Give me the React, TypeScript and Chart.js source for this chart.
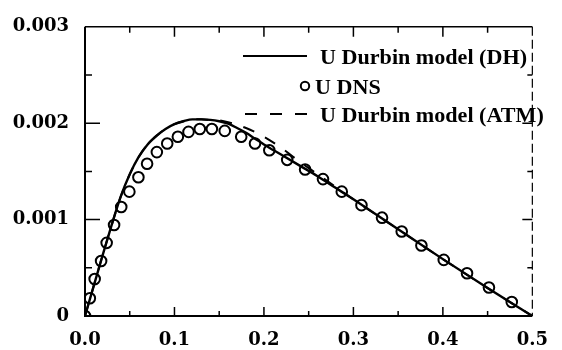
import React, { useEffect, useRef } from "react";
import { Chart, registerables } from "chart.js";

Chart.register(...registerables);

// ---- Data ----
const dnsX = [0, 0.0054, 0.0108, 0.018, 0.0242, 0.0325, 0.0405, 0.0496, 0.0597, 0.0694, 0.0803, 0.0919, 0.1038, 0.1157, 0.1283, 0.1418, 0.1562, 0.1746, 0.19, 0.206, 0.226, 0.246, 0.266, 0.287, 0.309, 0.332, 0.354, 0.376, 0.401, 0.427, 0.4515, 0.477];
const dnsY = [0, 0.000184, 0.000383, 0.000571, 0.000759, 0.000944, 0.00113, 0.00129, 0.00144, 0.00158, 0.0017, 0.00179, 0.00186, 0.00191, 0.00194, 0.00194, 0.00192, 0.00186, 0.00179, 0.00172, 0.00162, 0.00152, 0.00142, 0.00129, 0.00115, 0.00102, 0.000877, 0.000731, 0.000582, 0.000444, 0.000295, 0.000146];

const dhX = [0, 0.01, 0.02, 0.03, 0.04, 0.05, 0.06, 0.07, 0.08, 0.09, 0.1, 0.11, 0.12, 0.13, 0.14, 0.15, 0.16, 0.17, 0.18, 0.19, 0.2, 0.22, 0.24, 0.26, 0.28, 0.3, 0.35, 0.4, 0.45, 0.5];
const dhY = [0, 0.00032, 0.00064, 0.00095, 0.00124, 0.00147, 0.00165, 0.00178, 0.00187, 0.00194, 0.00199, 0.00202, 0.00204, 0.00204, 0.002035, 0.00202, 0.001995, 0.00195, 0.0019, 0.00184, 0.00178, 0.00167, 0.00156, 0.00145, 0.00133, 0.00121, 0.0009, 0.00059, 0.00029, 0];

const atmX = [0, 0.01, 0.02, 0.03, 0.04, 0.05, 0.06, 0.07, 0.08, 0.09, 0.1, 0.11, 0.12, 0.13, 0.14, 0.15, 0.16, 0.18, 0.2, 0.22, 0.24, 0.26, 0.28, 0.3, 0.35, 0.4, 0.45, 0.5];
const atmY = [0, 0.00032, 0.00064, 0.00095, 0.00124, 0.00147, 0.00165, 0.00178, 0.00187, 0.00194, 0.00199, 0.00202, 0.00204, 0.00204, 0.002035, 0.00203, 0.00201, 0.00195, 0.00186, 0.00174, 0.0016, 0.00147, 0.00134, 0.00121, 0.0009, 0.00059, 0.00029, 0];

const legendLabels = ["U Durbin model (DH)", "U DNS", "U Durbin model (ATM)"];

const xMin = 0, xMax = 0.5, xStep = 0.1, xMinorStep = 0.05;
const yMin = 0, yMax = 0.003, yStep = 0.001, yMinorStep = 0.0005;

const toPts = (xs: number[], ys: number[]) => xs.map((x, i) => ({ x, y: ys[i] }));

const framePlugin = {
  id: "frameAndLegend",
  afterDraw(chart: any) {
    const ctx = chart.ctx as CanvasRenderingContext2D;
    const { left, right, top, bottom } = chart.chartArea;
    const xs = chart.scales.x;
    const ys = chart.scales.y;
    ctx.save();
    ctx.strokeStyle = "#000";
    ctx.fillStyle = "#000";
    ctx.lineCap = "butt";

    // frame
    ctx.lineWidth = 2;
    ctx.beginPath();
    ctx.moveTo(left, top);
    ctx.lineTo(left, bottom);
    ctx.lineTo(right, bottom);
    ctx.stroke();
    ctx.lineWidth = 1.5;
    ctx.beginPath();
    ctx.moveTo(left, top);
    ctx.lineTo(right, top);
    ctx.stroke();
    ctx.lineWidth = 1.2;
    ctx.setLineDash([9, 4]);
    ctx.beginPath();
    ctx.moveTo(right, top);
    ctx.lineTo(right, bottom);
    ctx.stroke();
    ctx.setLineDash([]);

    // ticks
    ctx.lineWidth = 1.5;
    const nX = Math.round((xMax - xMin) / xMinorStep);
    for (let i = 1; i < nX; i++) {
      const v = xMin + i * xMinorStep;
      const major = Math.abs(v / xStep - Math.round(v / xStep)) < 1e-6;
      const px = xs.getPixelForValue(v);
      ctx.beginPath();
      ctx.moveTo(px, bottom);
      ctx.lineTo(px, bottom - (major ? 9 : 5));
      ctx.moveTo(px, top);
      ctx.lineTo(px, top + (major ? 10 : 6));
      ctx.stroke();
    }
    const nY = Math.round((yMax - yMin) / yMinorStep);
    for (let i = 1; i < nY; i++) {
      const v = yMin + i * yMinorStep;
      const major = Math.abs(v / yStep - Math.round(v / yStep)) < 1e-6;
      const py = ys.getPixelForValue(v);
      ctx.beginPath();
      ctx.moveTo(left, py);
      ctx.lineTo(left + (major ? 15 : 7), py);
      ctx.moveTo(right, py);
      ctx.lineTo(right - (major ? 10 : 5), py);
      ctx.stroke();
    }

    // legend
    const rows = [56, 86, 114];
    const textX = 320;
    ctx.font = "bold 21px 'Liberation Serif'";
    const s = 207 / ctx.measureText(legendLabels[0]).width;
    ctx.lineWidth = 2;
    ctx.beginPath();
    ctx.moveTo(243, rows[0]);
    ctx.lineTo(307, rows[0]);
    ctx.stroke();
    ctx.beginPath();
    ctx.arc(305, rows[1], 4.2, 0, Math.PI * 2);
    ctx.stroke();
    ctx.setLineDash([12, 13]);
    ctx.beginPath();
    ctx.moveTo(245, rows[2]);
    ctx.lineTo(308, rows[2]);
    ctx.stroke();
    ctx.setLineDash([]);
    const tx = [textX, 315, textX];
    legendLabels.forEach((t, i) => {
      ctx.save();
      ctx.translate(tx[i], rows[i] + 7.5);
      ctx.scale(s, 1);
      ctx.textBaseline = "alphabetic";
      ctx.textAlign = "left";
      ctx.fillText(t, 0, 0);
      ctx.restore();
    });
    ctx.restore();
  },
};

export default function App() {
  const ref = useRef<HTMLCanvasElement | null>(null);
  useEffect(() => {
    document.body.style.margin = "0";
    document.body.style.overflow = "hidden";
    const canvas = ref.current;
    if (!canvas) return;
    const tickFont = { family: "'DejaVu Serif'", size: 18, weight: "bold" as const };
    const chart = new Chart(canvas, {
      type: "scatter",
      data: {
        datasets: [
          {
            label: legendLabels[1],
            data: toPts(dnsX, dnsY),
            showLine: false,
            pointStyle: "circle",
            pointRadius: 5.3,
            pointBorderWidth: 2,
            borderColor: "#000",
            backgroundColor: "rgba(0,0,0,0)",
          },
          {
            label: legendLabels[0],
            data: toPts(dhX, dhY),
            showLine: true,
            pointRadius: 0,
            borderColor: "#000",
            borderWidth: 2.4,
            cubicInterpolationMode: "monotone",
          },
          {
            label: legendLabels[2],
            data: toPts(atmX, atmY),
            showLine: true,
            pointRadius: 0,
            borderColor: "#000",
            borderWidth: 2,
            borderDash: [12, 12],
            cubicInterpolationMode: "monotone",
          },
        ],
      },
      options: {
        animation: false,
        responsive: false,
        devicePixelRatio: 1,
        layout: { padding: { left: 0, right: 16, top: 18, bottom: 0 } },
        plugins: { legend: { display: false }, tooltip: { enabled: false } },
        scales: {
          x: {
            type: "linear",
            min: xMin,
            max: xMax,
            grid: { display: false, drawTicks: false },
            border: { display: false },
            ticks: {
              stepSize: xStep,
              color: "#000",
              font: tickFont,
              padding: 14,
              maxRotation: 0,
              callback: (v: any) => Number(v).toFixed(1),
            },
            afterFit: (scale: any) => {
              scale.height = 34;
            },
          },
          y: {
            type: "linear",
            min: yMin,
            max: yMax,
            grid: { display: false, drawTicks: false },
            border: { display: false },
            ticks: {
              stepSize: yStep,
              color: "#000",
              font: tickFont,
              padding: 16,
              callback: (v: any) => (Number(v) === 0 ? "0" : Number(v).toFixed(3)),
            },
            afterFit: (scale: any) => {
              scale.width = 85;
            },
          },
        },
      },
      plugins: [framePlugin],
    });
    return () => chart.destroy();
  }, []);
  return (
    <div style={{ width: 562, height: 350 }}>
      <canvas ref={ref} width={562} height={350} style={{ display: "block" }} />
    </div>
  );
}
